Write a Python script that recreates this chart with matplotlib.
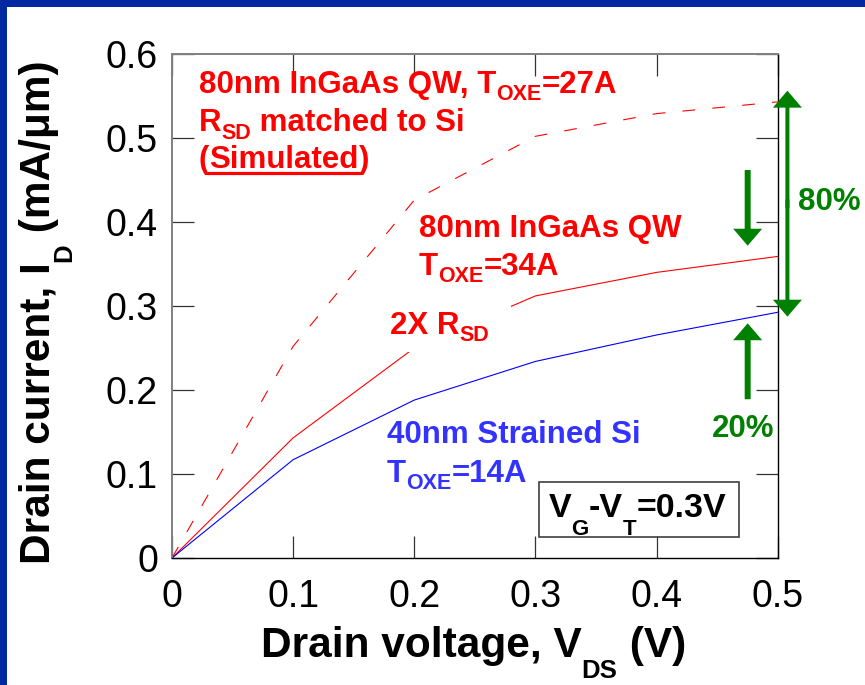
import matplotlib
matplotlib.use("Agg")
import matplotlib.pyplot as plt
from matplotlib.font_manager import FontProperties
from matplotlib.lines import Line2D
from matplotlib.patches import Rectangle
from matplotlib.transforms import offset_copy

FONT = "Liberation Sans"
RED = "#ff0000"
BLUE = "#0000ff"
LABEL_BLUE = "#3333ff"
GREEN = "#008000"
FRAME = "#0028a0"

# drain voltage sweep (V)
vds = [0.0, 0.1, 0.2, 0.3, 0.4, 0.5]
# drain current (mA/um)
id_ingaas_sim = [0.0, 0.252, 0.426, 0.502, 0.529, 0.543]   # R_SD matched to Si
id_ingaas = [0.0, 0.143, 0.250, 0.312, 0.340, 0.359]        # 2X R_SD
id_si = [0.0, 0.117, 0.188, 0.234, 0.2655, 0.2925]

x_ticks = [0.0, 0.1, 0.2, 0.3, 0.4, 0.5]
x_ticklabels = ["0", "0.1", "0.2", "0.3", "0.4", "0.5"]
y_ticks = [0.0, 0.1, 0.2, 0.3, 0.4, 0.5, 0.6]
y_ticklabels = ["0", "0.1", "0.2", "0.3", "0.4", "0.5", "0.6"]

# gain arrows: x, tail y, tip y
arrow_down = [0.4752, 0.4619, 0.3718]
arrow_up = [0.4752, 0.189, 0.2794]
arrow_80 = [0.508, 0.2873, 0.5563]


def text_runs(ax, x, y, runs, transform, color="black", rotation=0):
    """Draw (text, size, drop_px) runs one after another along a shared baseline.
    Returns the pixel span of every run measured from the anchor."""
    fig = ax.figure
    renderer = fig.canvas.get_renderer()
    pos = 0.0
    spans = []
    for s, size, drop in runs:
        prop = FontProperties(family=FONT, weight="bold", size=size)
        w_bars = renderer.get_text_width_height_descent("||", prop, ismath=False)[0]
        w_all = renderer.get_text_width_height_descent("|" + s + "|", prop, ismath=False)[0]
        width = w_all - w_bars
        if rotation == 90:
            tr = offset_copy(transform, fig=fig, x=drop, y=pos, units="dots")
        else:
            tr = offset_copy(transform, fig=fig, x=pos, y=-drop, units="dots")
        ax.text(x, y, s, transform=tr, fontproperties=prop, color=color,
                rotation=rotation, rotation_mode="anchor", ha="left",
                va="baseline", clip_on=False, zorder=4)
        spans.append((pos, pos + width))
        pos += width
    return spans


def pixel_box(ax, x, y, x0, y0, w, h, **kw):
    """Rectangle given in pixels relative to a data-space anchor, kept in the axes."""
    fig = ax.figure
    px, py = ax.transData.transform((x, y))
    inv = fig.transFigure.inverted()
    a = inv.transform((px + x0, py + y0))
    b = inv.transform((px + x0 + w, py + y0 + h))
    ax.add_patch(Rectangle(a, b[0] - a[0], b[1] - a[1], transform=fig.transFigure,
                           clip_on=False, **kw))


def gain_arrow(ax, x, y0, y1, tail):
    ax.annotate("", xy=(x, y1), xytext=(x, y0), annotation_clip=False,
                arrowprops=dict(arrowstyle=f"simple,head_length=1.22,head_width=2.09,tail_width={tail}",
                                mutation_scale=10, fc=GREEN, ec="none", lw=0,
                                shrinkA=0, shrinkB=0))


plt.rcParams["font.family"] = FONT

fig = plt.figure(figsize=(8.65, 6.85), dpi=100)
ax = fig.add_axes([0.1988, 0.1854, 0.7003, 0.7358])

ax.plot(vds, id_ingaas_sim, color=RED, lw=0.8, ls=(0, (11.5, 15.5)))
ax.plot(vds, id_ingaas, color=RED, lw=0.8)
ax.plot(vds, id_si, color=BLUE, lw=0.8)

ax.set_xlim(0, 0.5)
ax.set_ylim(0, 0.6)
ax.set_xticks(x_ticks, x_ticklabels)
ax.set_yticks(y_ticks, y_ticklabels)
ax.tick_params(direction="in", length=15.8, width=0.9, labelsize=27,
               top=True, right=True, color="#333333")
ax.tick_params(axis="x", pad=15)
ax.tick_params(axis="y", pad=10)
for side in ("left", "top"):
    ax.spines[side].set_color("#808080")
    ax.spines[side].set_linewidth(1.4)
for side in ("right", "bottom"):
    ax.spines[side].set_color("black")
    ax.spines[side].set_linewidth(1.0)

fig.canvas.draw()
SUB = 15.5
MAIN = 22.5

# curve labels
text_runs(ax, 0.0223, 0.5536, [("80nm InGaAs QW, T", MAIN, 0), ("OXE", SUB, 7), ("=27A", MAIN, 0)],
          ax.transData, RED)
text_runs(ax, 0.0223, 0.5083, [("R", MAIN, 0), ("SD", SUB, 7.5), (" matched to Si", MAIN, 0)],
          ax.transData, RED)
sim_spans = text_runs(ax, 0.0223, 0.4643, [("(", MAIN, 0), ("Simulated", MAIN, 0), (")", MAIN, 0)],
                      ax.transData, RED)
px, py = ax.transData.transform((0.0223, 0.4643))
inv = fig.transFigure.inverted()
u0 = inv.transform((px + sim_spans[1][0], py - 5.5))
u1 = inv.transform((px + sim_spans[1][1], py - 5.5))
fig.add_artist(Line2D([u0[0], u1[0]], [u0[1], u1[1]], color=RED, lw=2.3,
                      transform=fig.transFigure))

text_runs(ax, 0.2039, 0.3821, [("80nm InGaAs QW", MAIN, 0)], ax.transData, RED)
text_runs(ax, 0.2039, 0.3369, [("T", MAIN, 0), ("OXE", SUB, 7), ("=34A", MAIN, 0)],
          ax.transData, RED)
# white backdrop so the 2X R_SD curve breaks behind its label
pixel_box(ax, 0.18, 0.2667, -5, -18, 126, 46, fc="white", ec="none", zorder=2.5)
text_runs(ax, 0.18, 0.2667, [("2X R", MAIN, 0), ("SD", SUB, 7.5)], ax.transData, RED)

text_runs(ax, 0.1775, 0.1369, [("40nm Strained Si", MAIN, 0)], ax.transData, LABEL_BLUE)
text_runs(ax, 0.1775, 0.0905, [("T", MAIN, 0), ("OXE", SUB, 7), ("=14A", MAIN, 0)],
          ax.transData, LABEL_BLUE)

# bias condition box
ax.add_patch(Rectangle((0.303, 0.025), 0.165, 0.0655, fill=False, ec="#404040", lw=1.2,
                       clip_on=False, zorder=3))
text_runs(ax, 0.3112, 0.0488, [("V", 24.5, 0), ("G", 16, 18), ("-V", 24.5, 0), ("T", 16, 18),
                                ("=0.3V", 24.5, 0)], ax.transData, "black")

# gain arrows
gain_arrow(ax, arrow_down[0], arrow_down[1], arrow_down[2], 0.43)
gain_arrow(ax, arrow_up[0], arrow_up[1], arrow_up[2], 0.43)
mid = (arrow_80[1] + arrow_80[2]) / 2
gain_arrow(ax, arrow_80[0], mid + 0.005, arrow_80[1], 0.29)
gain_arrow(ax, arrow_80[0], mid - 0.005, arrow_80[2], 0.29)
text_runs(ax, 0.5168, 0.4143, [("80%", MAIN, 0)], ax.transData, GREEN)
text_runs(ax, 0.4458, 0.144, [("20%", MAIN, 0)], ax.transData, GREEN)

# axis titles with dropped subscripts
text_runs(ax, 0.3017, 0.0413, [("Drain voltage, V", 30.5, 0), ("DS", 18.5, 21), (" (V)", 30.5, 0)],
          fig.transFigure, "black")
text_runs(ax, 0.0578, 0.1766, [("Drain current, I", 30.5, 0), ("D", 18.5, 21), (" (mA/\u03bcm)", 30.5, 0)],
          fig.transFigure, "black", rotation=90)

# slide frame
fig.add_artist(Rectangle((0, 1 - 7 / 685), 1, 7 / 685, transform=fig.transFigure,
                         fc=FRAME, ec="none", zorder=10))
fig.add_artist(Rectangle((0, 0), 7 / 865, 1, transform=fig.transFigure,
                         fc=FRAME, ec="none", zorder=10))

fig.savefig("out.png", dpi=100)
